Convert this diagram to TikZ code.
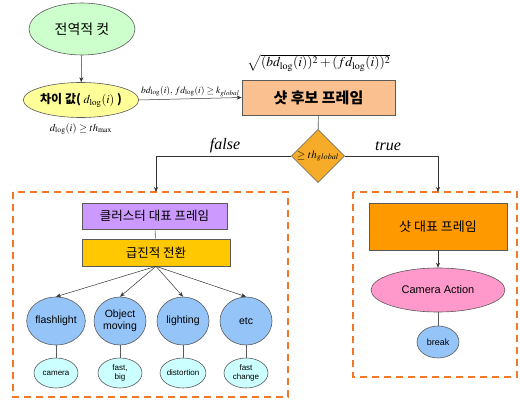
\documentclass[tikz,border=0pt]{standalone}
\usepackage[no-math]{fontspec}
\usepackage{mathptmx}
\setmainfont{Liberation Sans}
\newfontfamily\kr{Noto Sans CJK KR}
\newfontfamily\tms{Liberation Serif}
\usetikzlibrary{shapes.geometric,arrows.meta}
\definecolor{lgreen}{RGB}{204,255,204}
\definecolor{lyellow}{RGB}{255,255,153}
\definecolor{peach}{RGB}{250,192,144}
\definecolor{dmd}{RGB}{246,172,40}
\definecolor{dashor}{RGB}{240,120,40}
\definecolor{violet}{RGB}{204,153,255}
\definecolor{gold}{RGB}{255,200,0}
\definecolor{cblue}{RGB}{148,196,248}
\definecolor{lcyan}{RGB}{204,255,255}
\definecolor{orng}{RGB}{255,153,0}
\definecolor{pink}{RGB}{255,153,204}
\definecolor{edge}{RGB}{90,90,90}
\tikzset{
  base/.style={draw=edge, line width=0.6pt, inner sep=0pt, align=center},
  ell/.style={base, ellipse},
  boxn/.style={base, rectangle},
  arr/.style={draw=black!80, line width=0.5pt, -{Stealth[length=5pt,width=4pt]}},
  ln/.style={draw=edge, line width=0.6pt},
  dbox/.style={draw=dashor, line width=1.8pt, dash pattern=on 7pt off 5pt},
}
\begin{document}
\begin{tikzpicture}[x=1pt,y=-1pt]
\useasboundingbox (0,0) rectangle (521,403);
% top
\node[ell, fill=lgreen, minimum width=106, minimum height=52, font=\kr\fontsize{14}{16}\selectfont] (top) at (82,29) {전역적 컷};
\node[ell, fill=lyellow, minimum width=98, minimum height=35, font=\kr\bfseries\fontsize{12}{14}\selectfont] (diff) at (81,100) {차이 값( $d_{\log}(i)$ )};
\node[font=\fontsize{10.5}{12}\selectfont] (dth) at (81,129) {$d_{\log}(i)\geq th_{\max}$};
\node[boxn, fill=peach, minimum width=153, minimum height=35, font=\kr\bfseries\fontsize{15}{17}\selectfont] (cand) at (318.5,97.5) {샷 후보 프레임};
\node[font=\fontsize{13.5}{15}\selectfont] (sq) at (319,63) {$\sqrt{(bd_{\log}(i))^2+(fd_{\log}(i))^2}$};
\node[base, diamond, fill=dmd, minimum width=52, minimum height=48, font=\fontsize{11}{13}\selectfont] (dia) at (318,156) {$\geq th_{global}$};
\draw[arr] (top) -- (diff);
\draw[arr] (diff.east) -- node[above, font=\fontsize{9.5}{11}\selectfont, inner sep=2pt] (klab) {$bd_{\log}(i),\, fd_{\log}(i)\geq k_{global}$} (cand.west);
\draw[ln] (cand) -- (dia);
% dashed boxes
\draw[dbox] (13,192) rectangle (288,397);
\draw[dbox] (353,192) rectangle (517,377);
\coordinate (lin) at (156,192);
\coordinate (rin) at (438,192);
\draw[arr] (dia.west) -| (lin);
\draw[arr] (dia.east) -| (rin);
\node[font=\tms\itshape\fontsize{16}{18}\selectfont] (fl) at (225,146) {false};
\node[font=\tms\itshape\fontsize{16}{18}\selectfont] (tr) at (388,146) {true};
% left group
\node[boxn, fill=violet, minimum width=145, minimum height=26, font=\kr\fontsize{12.5}{14}\selectfont] (clu) at (154.5,216) {클러스터 대표 프레임};
\node[boxn, fill=gold, minimum width=148, minimum height=27, font=\kr\fontsize{12.5}{14}\selectfont] (rad) at (156,252.5) {급진적 전환};
\draw[ln] (clu) -- (rad);
\foreach \n/\x/\t/\s in {a/56/flashlight/camera, b/120/{Object\\moving}/{fast,\\big}, c/183/lighting/distortion, d/246/etc/{fast\\change}}{
  \node[ell, fill=cblue, minimum width=52, minimum height=48, font=\fontsize{10.5}{11.5}\selectfont] (c\n) at (\x,321) {\t};
  \node[ell, fill=lcyan, minimum width=44, minimum height=30, font=\fontsize{8}{9}\selectfont] (s\n) at (\x,373) {\s};
  \draw[arr] (rad.south) -- (c\n.north);
  \draw[ln] (c\n) -- (s\n);
}
% right group
\node[boxn, fill=orng, minimum width=138, minimum height=47, font=\kr\fontsize{13}{15}\selectfont] (rep) at (438,226.5) {샷 대표 프레임};
\node[ell, fill=pink, minimum width=134, minimum height=44, font=\fontsize{11}{13}\selectfont] (cam) at (438,290) {Camera Action};
\node[ell, fill=cblue, minimum width=42, minimum height=32, font=\fontsize{9}{11}\selectfont] (brk) at (438,342) {break};
\draw[arr] (rep) -- (cam);
\draw[ln] (cam) -- (brk);
\end{tikzpicture}
\end{document}
